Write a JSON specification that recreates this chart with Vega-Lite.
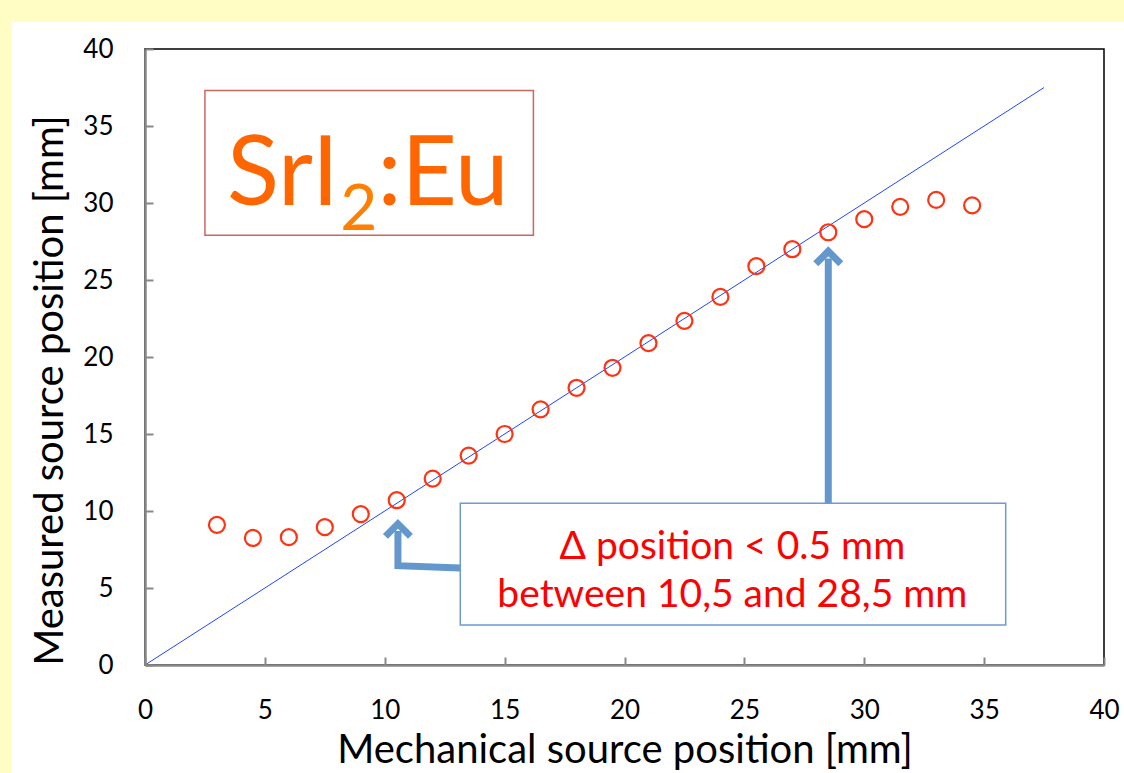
{
  "$schema": "https://vega.github.io/schema/vega-lite/v6.json",
  "width": 959,
  "height": 616,
  "autosize": {"type": "none"},
  "padding": {"left": 145, "top": 49, "right": 20, "bottom": 108},
  "background": "#FFFFFF",
  "config": {"view": {"stroke": "#000000", "strokeWidth": 1.5}, "font": "Lato"},
  "datasets": {
    "frame": [
      {"x": -10, "x2": 50, "y": 41.75, "y2": 50},
      {"x": -10, "x2": -5.55, "y": -10, "y2": 50}
    ],
    "points": [
      {"x": 3, "y": 9.1}, {"x": 4.5, "y": 8.25}, {"x": 6, "y": 8.3}, {"x": 7.5, "y": 8.95},
      {"x": 9, "y": 9.8}, {"x": 10.5, "y": 10.7}, {"x": 12, "y": 12.1}, {"x": 13.5, "y": 13.6},
      {"x": 15, "y": 15.0}, {"x": 16.5, "y": 16.6}, {"x": 18, "y": 18.0}, {"x": 19.5, "y": 19.3},
      {"x": 21, "y": 20.9}, {"x": 22.5, "y": 22.35}, {"x": 24, "y": 23.9}, {"x": 25.5, "y": 25.9},
      {"x": 27, "y": 27.0}, {"x": 28.5, "y": 28.1}, {"x": 30, "y": 28.95}, {"x": 31.5, "y": 29.75},
      {"x": 33, "y": 30.2}, {"x": 34.5, "y": 29.85}
    ],
    "ideal": [{"x": 0, "y": 0}, {"x": 37.5, "y": 37.5}],
    "arrows": [
      {"arrow": "a", "o": 1, "x": 13.15, "y": 6.3},
      {"arrow": "a", "o": 2, "x": 10.55, "y": 6.45},
      {"arrow": "a", "o": 3, "x": 10.55, "y": 8.7},
      {"arrow": "b", "o": 1, "x": 28.5, "y": 10.5},
      {"arrow": "b", "o": 2, "x": 28.5, "y": 26.4}
    ],
    "heads": [{"x": 10.55, "y": 9.0}, {"x": 28.5, "y": 26.7}],
    "box1": [{"x": 2.5, "x2": 16.2, "y": 37.3, "y2": 27.9}],
    "box2": [{"x": 13.15, "x2": 35.9, "y": 10.5, "y2": 2.6}],
    "title_main": [{"x": 3.42, "y": 29.87, "t": "SrI"}, {"x": 9.7, "y": 29.87, "t": ":Eu"}],
    "title_sub": [{"x": 8.14, "y": 28.25, "t": "2"}],
    "note": [
      {"x": 24.5, "y": 6.88, "t": "Δ position < 0.5 mm"},
      {"x": 24.5, "y": 3.77, "t": "between 10,5 and 28,5 mm"}
    ]
  },
  "encoding": {
    "x": {
      "field": "x", "type": "quantitative",
      "scale": {"domain": [0, 40], "nice": false, "zero": false},
      "axis": {
        "values": [0, 5, 10, 15, 20, 25, 30, 35, 40], "zindex": 1,
        "grid": false, "domainColor": "#888888", "domainWidth": 2.5,
        "tickColor": "#888888", "tickWidth": 2, "tickSize": -8,
        "labelFont": "Lato", "labelFontSize": 26, "labelColor": "#000000",
        "labelPadding": 40, "labelFlush": false, "labelOverlap": false,
        "title": "Mechanical source position [mm]",
        "titleFont": "Lato", "titleFontSize": 40, "titleFontWeight": "normal",
        "titleColor": "#000000", "titlePadding": 7
      }
    },
    "y": {
      "field": "y", "type": "quantitative",
      "scale": {"domain": [0, 40], "nice": false, "zero": false},
      "axis": {
        "values": [0, 5, 10, 15, 20, 25, 30, 35, 40], "zindex": 1,
        "grid": false, "domainColor": "#888888", "domainWidth": 2.5,
        "tickColor": "#888888", "tickWidth": 2, "tickSize": -8,
        "labelFont": "Lato", "labelFontSize": 26, "labelColor": "#000000",
        "labelPadding": 40, "labelFlush": false, "labelOverlap": false,
        "title": "Measured source position [mm]",
        "titleFont": "Lato", "titleFontSize": 40, "titleFontWeight": "normal",
        "titleColor": "#000000", "titlePadding": 12, "titleY": 341
      }
    }
  },
  "layer": [
    {
      "data": {"name": "frame"},
      "mark": {"type": "rect", "fill": "#FFFDC4", "clip": false},
      "encoding": {"x2": {"field": "x2"}, "y2": {"field": "y2"}}
    },
    {
      "data": {"name": "ideal"},
      "mark": {"type": "line", "color": "#2244FF", "strokeWidth": 1},
      "encoding": {}
    },
    {
      "data": {"name": "arrows"},
      "mark": {"type": "line", "color": "#6497CC", "strokeWidth": 7, "strokeJoin": "miter"},
      "encoding": {"detail": {"field": "arrow"}, "order": {"field": "o"}}
    },
    {
      "data": {"name": "heads"},
      "mark": {"type": "point", "shape": "M-1,0.8L0,-0.2L1,0.8", "filled": false, "stroke": "#6497CC", "strokeWidth": 7, "size": 625, "opacity": 1, "strokeJoin": "miter"},
      "encoding": {}
    },
    {
      "data": {"name": "box1"},
      "mark": {"type": "rect", "fill": "#FFFFFF", "stroke": "#CC6660", "strokeWidth": 1.5},
      "encoding": {"x2": {"field": "x2"}, "y2": {"field": "y2"}}
    },
    {
      "data": {"name": "box2"},
      "mark": {"type": "rect", "fill": "#FFFFFF", "stroke": "#6C9BD2", "strokeWidth": 1.5},
      "encoding": {"x2": {"field": "x2"}, "y2": {"field": "y2"}}
    },
    {
      "data": {"name": "points"},
      "mark": {"type": "point", "shape": "circle", "filled": false, "stroke": "#FF3311", "strokeWidth": 2.2, "size": 256, "opacity": 1},
      "encoding": {}
    },
    {
      "data": {"name": "title_main"},
      "mark": {"type": "text", "align": "left", "baseline": "alphabetic", "font": "Lato", "fontSize": 96, "color": "#FF6600"},
      "encoding": {"text": {"field": "t"}}
    },
    {
      "data": {"name": "title_sub"},
      "mark": {"type": "text", "align": "left", "baseline": "alphabetic", "font": "Lato", "fontSize": 64, "color": "#FF8000"},
      "encoding": {"text": {"field": "t"}}
    },
    {
      "data": {"name": "note"},
      "mark": {"type": "text", "align": "center", "baseline": "alphabetic", "font": "Lato", "fontSize": 39, "color": "#FF0000"},
      "encoding": {"text": {"field": "t"}}
    }
  ]
}
